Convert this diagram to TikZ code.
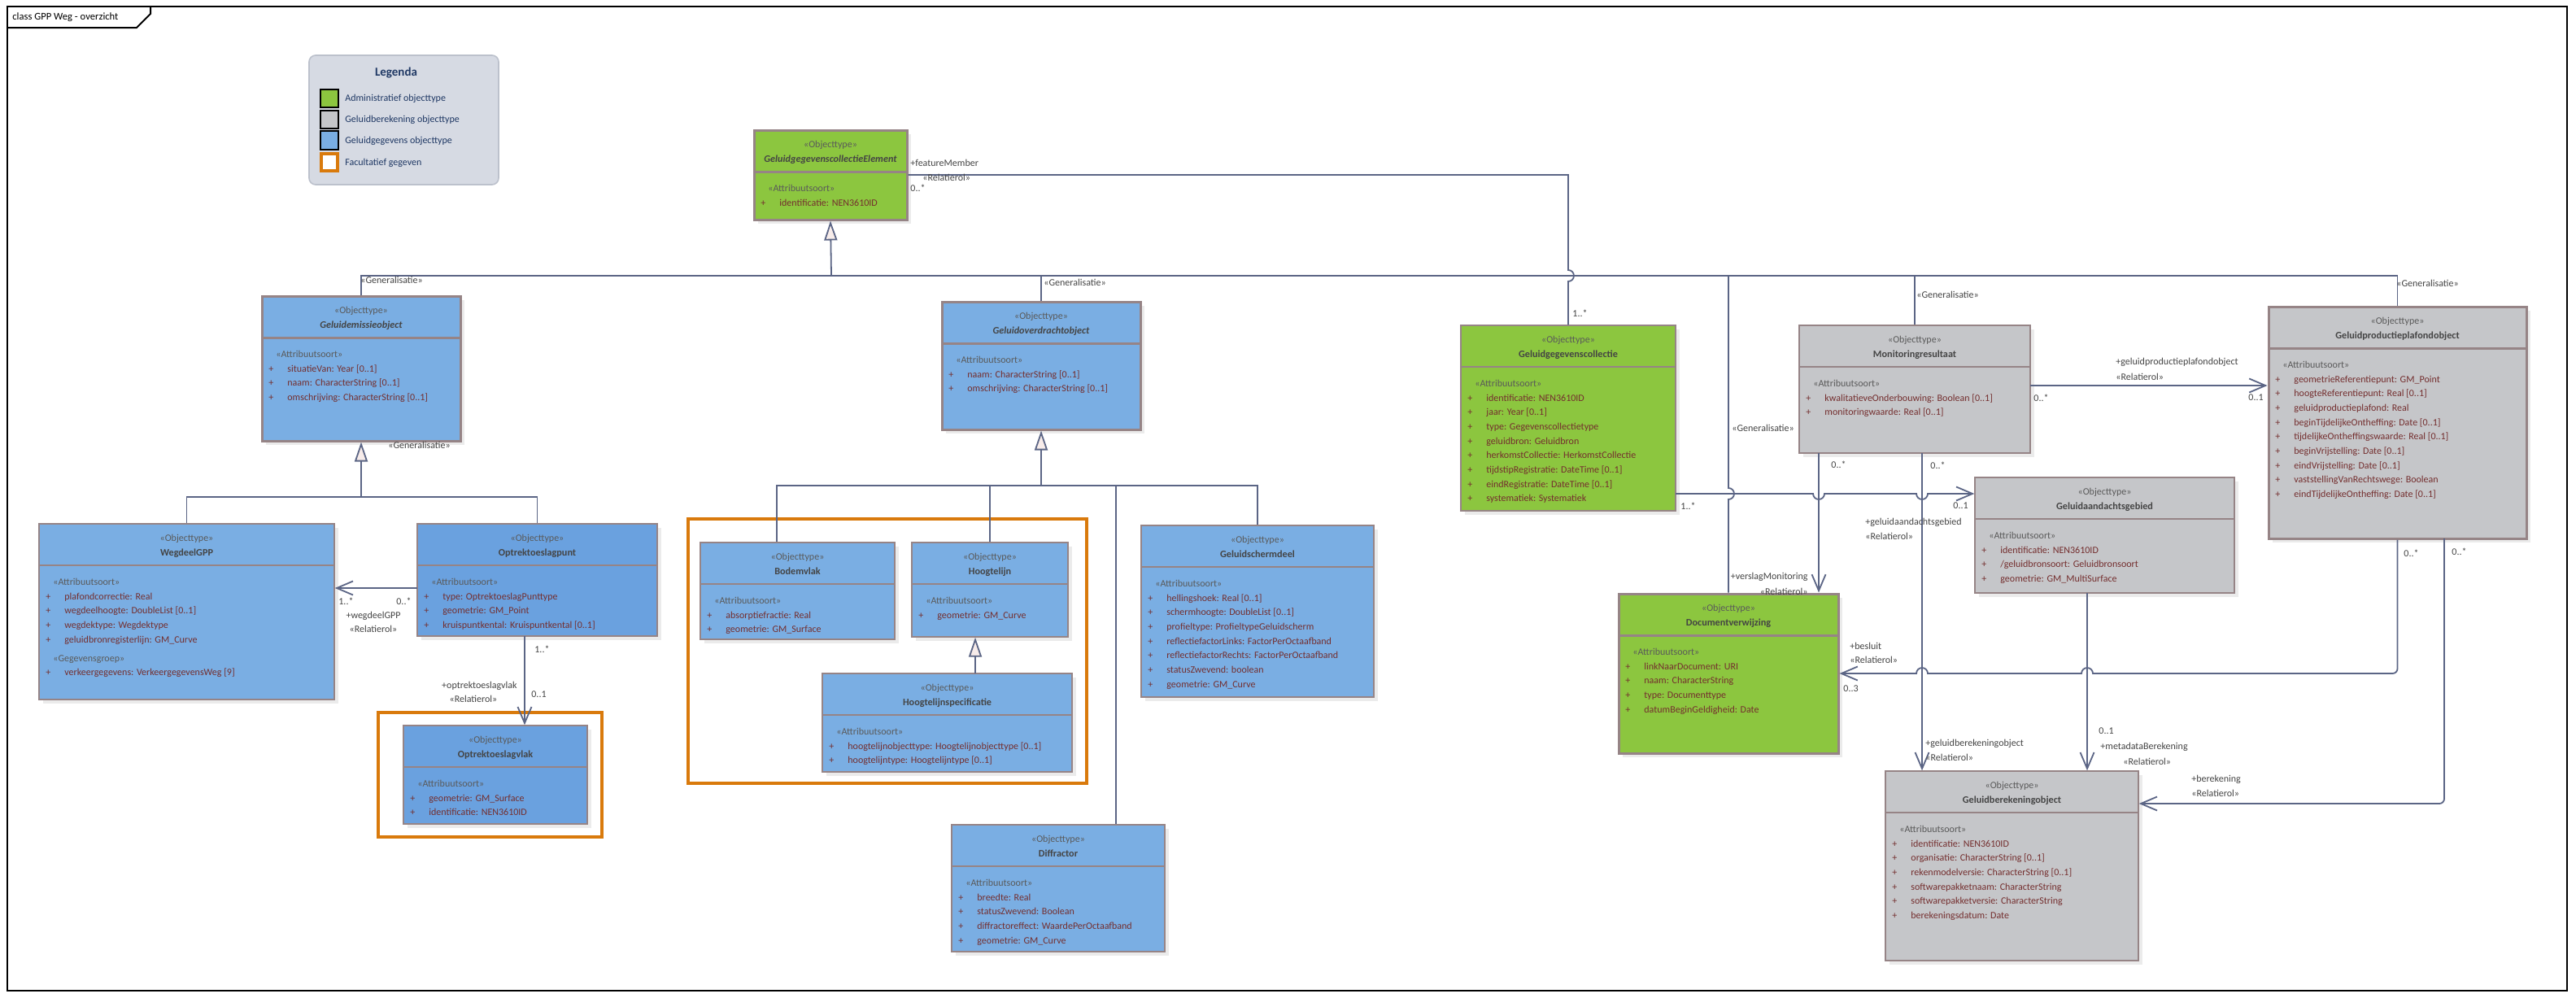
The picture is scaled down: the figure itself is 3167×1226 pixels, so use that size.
\documentclass[tikz,border=0pt]{standalone}
\usepackage{fontspec}
\setmainfont{Carlito}
\usetikzlibrary{arrows.meta,fit,shadows}
\definecolor{cblue}{HTML}{7AAEE3}
\definecolor{cblueb}{HTML}{6AA1DF}
\definecolor{cgreen}{HTML}{8CC63F}
\definecolor{cgrey}{HTML}{C5C6C9}
\definecolor{cborder}{HTML}{968486}
\definecolor{cline}{HTML}{5B6585}
\definecolor{cattr}{HTML}{742E2E}
\definecolor{cstereo}{HTML}{5A5A5A}
\definecolor{cnamecol}{HTML}{444444}
\definecolor{corange}{HTML}{D97A0C}
\definecolor{clegbg}{HTML}{D6DAE3}
\definecolor{clegbd}{HTML}{BCC1CC}
\definecolor{cnavy}{HTML}{1F3864}
\definecolor{cgenfill}{HTML}{F7ECEA}
\tikzset{
  box/.style={draw=cborder, inner sep=0pt, line width=0.7pt,
    drop shadow={shadow xshift=2.5pt,shadow yshift=-2.5pt,fill=black!15}},
  thickb/.style={line width=1.5pt},
  thinb/.style={line width=0.7pt},
  stereo/.style={inner sep=0pt, text=cstereo, font=\fontsize{6}{7}\selectfont},
  clsname/.style={inner sep=0pt, text=cnamecol, font=\bfseries\fontsize{6.1}{7}\selectfont},
  attrtxt/.style={inner sep=0pt, text=cattr, font=\fontsize{6}{7}\selectfont},
  lbl/.style={inner sep=0pt, text=cnamecol, font=\fontsize{6}{7}\selectfont},
  legtxt/.style={inner sep=0pt, text=cnavy, font=\fontsize{6}{7}\selectfont},
  conn/.style={draw=cline, line width=0.9pt},
  assoc/.style={conn, -{Straight Barb[length=10pt,width=8.5pt,line width=0.9pt]}},
  gen/.style={conn, -{Triangle[length=12pt,width=8pt,fill=cgenfill,line width=0.9pt]}},
  optframe/.style={draw=corange, line width=2pt, inner sep=0pt},
  swatch/.style={draw=black, line width=0.8pt, inner sep=0pt},
}
\newcommand\umlclass[8]{%
  \node[box, #7, fill=#6, fit={(#2,#3) (#4,#5)}] (#1) {};
  \draw[draw=cborder, #7] (#2,#3+51) -- (#4,#3+51);
  \node[stereo, anchor=base] (#1-st) at ({(#2+#4)/2},#3+21) {«Objecttype»};
  \node[clsname, anchor=base] (#1-nm) at ({(#2+#4)/2},#3+39) {#8};
  \node[stereo, anchor=base west] (#1-as) at (#2+17,#3+75) {«Attribuutsoort»};
}
\newcommand\attrlist[4]{%
  \foreach \aline [count=\i from 0] in {#4} {
    \node[attrtxt, anchor=base west] (#1-a\i) at (#2+8,#3+93+\i*17.7) {\makebox[11.5pt][l]{+}\aline};
  }%
}
\begin{document}
\begin{tikzpicture}[x=0.5pt,y=-0.5pt]
\useasboundingbox (0,0) rectangle (3167,1226);
\fill[white] (0,0) rectangle (3167,1226);
% frame
\node[draw=black, line width=1pt, inner sep=0pt, fit={(9,8) (3156,1218)}] (frame) {};
\draw[black, line width=1pt] (185,8) -- (185,17) -- (168,34) -- (9,34);
\node[anchor=west, inner sep=0pt, font=\fontsize{6.3}{7}\selectfont] (title) at (15,21) {class GPP Weg - overzicht};
% legend
\node[draw=clegbd, fill=clegbg, rounded corners=4pt, line width=0.8pt, inner sep=0pt, fit={(380,68) (613,227)}] (legend) {};
\node[inner sep=0pt, text=cnavy, font=\bfseries\fontsize{7.5}{9}\selectfont] (legtitle) at (487,90) {Legenda};
\node[swatch, fill=cgreen, fit={(394,110) (416,132)}] (sw1) {};
\node[swatch, fill=cgrey, fit={(394,136) (416,158)}] (sw2) {};
\node[swatch, fill=cblue, fit={(394,161) (416,184)}] (sw3) {};
\node[swatch, draw=corange, line width=1.6pt, fill=white, fit={(395,189) (415,210)}] (sw4) {};
\node[legtxt, anchor=west] (lg1) at (424,121) {Administratief objecttype};
\node[legtxt, anchor=west] (lg2) at (424,147) {Geluidberekening objecttype};
\node[legtxt, anchor=west] (lg3) at (424,173) {Geluidgegevens objecttype};
\node[legtxt, anchor=west] (lg4) at (424,200) {Facultatief gegeven};
% optional frames
\node[optframe, fit={(465,876) (740,1029)}] (opt1) {};
\node[optframe, fit={(846,638) (1336,963)}] (opt2) {};
% classes
\umlclass{ggce}{927}{160}{1115}{270}{cgreen}{thickb}{\itshape GeluidgegevenscollectieElement}
\attrlist{ggce}{927}{160}{identificatie: NEN3610ID}
\umlclass{gemo}{322}{364}{566}{542}{cblue}{thickb}{\itshape Geluidemissieobject}
\attrlist{gemo}{322}{364}{situatieVan: Year [0..1], naam: CharacterString [0..1], omschrijving: CharacterString [0..1]}
\umlclass{govo}{1158}{371}{1402}{528}{cblue}{thickb}{\itshape Geluidoverdrachtobject}
\attrlist{govo}{1158}{371}{naam: CharacterString [0..1], omschrijving: CharacterString [0..1]}
\umlclass{ggc}{1796}{400}{2060}{628}{cgreen}{thinb}{Geluidgegevenscollectie}
\attrlist{ggc}{1796}{400}{identificatie: NEN3610ID, jaar: Year [0..1], type: Gegevenscollectietype, geluidbron: Geluidbron, herkomstCollectie: HerkomstCollectie, tijdstipRegistratie: DateTime [0..1], eindRegistratie: DateTime [0..1], systematiek: Systematiek}
\umlclass{mon}{2212}{400}{2496}{557}{cgrey}{thinb}{Monitoringresultaat}
\attrlist{mon}{2212}{400}{kwalitatieveOnderbouwing: Boolean [0..1], monitoringwaarde: Real [0..1]}
\umlclass{gppo}{2789}{377}{3106}{662}{cgrey}{thickb}{Geluidproductieplafondobject}
\attrlist{gppo}{2789}{377}{geometrieReferentiepunt: GM\_Point, hoogteReferentiepunt: Real [0..1], geluidproductieplafond: Real, beginTijdelijkeOntheffing: Date [0..1], tijdelijkeOntheffingswaarde: Real [0..1], beginVrijstelling: Date [0..1], eindVrijstelling: Date [0..1], vaststellingVanRechtswege: Boolean, eindTijdelijkeOntheffing: Date [0..1]}
\umlclass{weg}{48}{644}{411}{860}{cblue}{thinb}{WegdeelGPP}
\attrlist{weg}{48}{644}{plafondcorrectie: Real, wegdeelhoogte: DoubleList [0..1], wegdektype: Wegdektype, geluidbronregisterlijn: GM\_Curve}
\node[stereo, anchor=base west] (weg-gg) at (65,813) {«Gegevensgroep»};
\node[attrtxt, anchor=base west] (weg-vk) at (56,830) {\makebox[11.5pt][l]{+}verkeergegevens: VerkeergegevensWeg [9]};
\umlclass{optp}{513}{644}{808}{782}{cblueb}{thinb}{Optrektoeslagpunt}
\attrlist{optp}{513}{644}{type: OptrektoeslagPunttype, geometrie: GM\_Point, kruispuntkental: Kruispuntkental [0..1]}
\umlclass{optv}{496}{892}{722}{1013}{cblueb}{thinb}{Optrektoeslagvlak}
\attrlist{optv}{496}{892}{geometrie: GM\_Surface, identificatie: NEN3610ID}
\umlclass{bod}{861}{667}{1100}{786}{cblue}{thinb}{Bodemvlak}
\attrlist{bod}{861}{667}{absorptiefractie: Real, geometrie: GM\_Surface}
\umlclass{hl}{1121}{667}{1313}{783}{cblue}{thinb}{Hoogtelijn}
\attrlist{hl}{1121}{667}{geometrie: GM\_Curve}
\umlclass{hls}{1011}{828}{1318}{949}{cblue}{thinb}{Hoogtelijnspecificatie}
\attrlist{hls}{1011}{828}{hoogtelijnobjecttype: Hoogtelijnobjecttype [0..1], hoogtelijntype: Hoogtelijntype [0..1]}
\umlclass{gsd}{1403}{646}{1689}{857}{cblue}{thinb}{Geluidschermdeel}
\attrlist{gsd}{1403}{646}{hellingshoek: Real [0..1], schermhoogte: DoubleList [0..1], profieltype: ProfieltypeGeluidscherm, reflectiefactorLinks: FactorPerOctaafband, reflectiefactorRechts: FactorPerOctaafband, statusZwevend: boolean, geometrie: GM\_Curve}
\umlclass{dif}{1170}{1014}{1432}{1170}{cblue}{thinb}{Diffractor}
\attrlist{dif}{1170}{1014}{breedte: Real, statusZwevend: Boolean, diffractoreffect: WaardePerOctaafband, geometrie: GM\_Curve}
\umlclass{gag}{2428}{587}{2747}{729}{cgrey}{thinb}{Geluidaandachtsgebied}
\attrlist{gag}{2428}{587}{identificatie: NEN3610ID, {/geluidbronsoort: Geluidbronsoort}, geometrie: GM\_MultiSurface}
\umlclass{doc}{1990}{730}{2260}{926}{cgreen}{thickb}{Documentverwijzing}
\attrlist{doc}{1990}{730}{linkNaarDocument: URI, naam: CharacterString, type: Documenttype, datumBeginGeldigheid: Date}
\umlclass{gbo}{2318}{948}{2629}{1181}{cgrey}{thinb}{Geluidberekeningobject}
\attrlist{gbo}{2318}{948}{identificatie: NEN3610ID, organisatie: CharacterString [0..1], rekenmodelversie: CharacterString [0..1], softwarepakketnaam: CharacterString, softwarepakketversie: CharacterString, berekeningsdatum: Date}
% generalisation tree (top)
\coordinate (gtree) at (1022,339);
\draw[conn] (gemo.north) |- (gtree);
\draw[conn] (govo.north) |- (gtree);
\draw[conn] (mon.north) |- (gtree);
\draw[conn] (gppo.north) |- (gtree);
\draw[conn] (doc.north) -- (2125,614) arc[start angle=90,end angle=-90,radius=7] -- (2125,339);
\draw[gen] (gtree) -- (ggce.south);
% featureMember
\draw[conn] (ggce.east) -- (1928,215) -- (1928,332) arc[start angle=-90,end angle=90,radius=7] -- (ggc.north);
% generalisation Geluidemissieobject
\coordinate (gt2) at (444,611);
\draw[conn] (weg.north) |- (gt2);
\draw[conn] (optp.north) |- (gt2);
\draw[gen] (gt2) -- (gemo.south);
% generalisation Geluidoverdrachtobject
\coordinate (gt3) at (1280,597);
\coordinate (b1) at (955,597);
\coordinate (d1) at (1372,597);
\draw[conn] (b1 |- bod.north) -- (b1) -- (gt3);
\draw[conn] (hl.north) |- (gt3);
\draw[conn] (d1 |- dif.north) -- (d1);
\draw[conn] (gsd.north) |- (gt3);
\draw[gen] (gt3) -- (govo.south);
\coordinate (h1) at (1199,828);
\draw[gen] (h1) -- (h1 |- hl.south);
% associations
\coordinate (a1) at (513,723);
\draw[assoc] (a1) -- (a1 -| weg.east);
\coordinate (a2) at (645,782);
\draw[assoc] (a2) -- (a2 |- optv.north);
\coordinate (m1) at (2496,474);
\draw[assoc] (m1) -- (m1 -| gppo.west);
\coordinate (c1) at (2060,607);
\draw[assoc] (c1) -- (2229,607) arc[start angle=180,end angle=0,radius=7] -- (2356,607) arc[start angle=180,end angle=0,radius=7] -- (c1 -| gag.west);
\coordinate (m2) at (2236,557);
\draw[assoc] (m2) -- (m2 |- doc.north);
\coordinate (m3) at (2363,557);
\draw[assoc] (m3) -- (m3 |- gbo.north);
\coordinate (g3) at (2566,729);
\draw[assoc] (g3) -- (g3 |- gbo.north);
\draw[assoc] (gppo.south) -- (2947.5,822) arc[start angle=0,end angle=90,radius=6] -- (2573,828) arc[start angle=0,end angle=-180,radius=7] -- (2370,828) arc[start angle=0,end angle=-180,radius=7] -- (doc.east);
\coordinate (g2) at (3005,662);
\coordinate (g2b) at (2999,988);
\draw[assoc] (g2) -- (3005,982) arc[start angle=0,end angle=90,radius=6] -- (g2b -| gbo.east);
% labels
\node[lbl, anchor=west] (lb1) at (443,344) {«Generalisatie»};
\node[lbl, anchor=west] (lb2) at (477,547) {«Generalisatie»};
\node[lbl, anchor=west] (lb3) at (1283,347) {«Generalisatie»};
\node[lbl, anchor=west] (lb4) at (2129,526) {«Generalisatie»};
\node[lbl, anchor=west] (lb5) at (2356,362) {«Generalisatie»};
\node[lbl, anchor=west] (lb6) at (2946,348) {«Generalisatie»};
\node[lbl, anchor=west] (lb7) at (1119,200) {+featureMember};
\node[lbl, anchor=west] (lb8) at (1134,218) {«Relatierol»};
\node[lbl, anchor=west] (lb9) at (1119,231) {0..*};
\node[lbl, anchor=west] (lb10) at (1933,385) {1..*};
\node[lbl, anchor=west] (lb11) at (416,739) {1..*};
\node[lbl, anchor=west] (lb12) at (487,739) {0..*};
\node[lbl] (lb13) at (459,757) {+wegdeelGPP};
\node[lbl] (lb14) at (459,773) {«Relatierol»};
\node[lbl, anchor=west] (lb15) at (657,798) {1..*};
\node[lbl, anchor=east] (lb16) at (636,843) {+optrektoeslagvlak};
\node[lbl] (lb17) at (582,859) {«Relatierol»};
\node[lbl, anchor=west] (lb18) at (653,854) {0..1};
\node[lbl, anchor=west] (lb19) at (2601,445) {+geluidproductieplafondobject};
\node[lbl, anchor=west] (lb20) at (2601,463) {«Relatierol»};
\node[lbl, anchor=west] (lb21) at (2500,489) {0..*};
\node[lbl, anchor=west] (lb22) at (2764,489) {0..1};
\node[lbl, anchor=west] (lb23) at (2251,571) {0..*};
\node[lbl, anchor=west] (lb24) at (2373,572) {0..*};
\node[lbl, anchor=west] (lb25) at (2066,622) {1..*};
\node[lbl, anchor=west] (lb26) at (2401,622) {0..1};
\node[lbl, anchor=west] (lb27) at (2293,642) {+geluidaandachtsgebied};
\node[lbl, anchor=west] (lb28) at (2293,659) {«Relatierol»};
\node[lbl, anchor=east] (lb29) at (2223,709) {+verslagMonitoring};
\node[lbl, anchor=east] (lb30) at (2223,727) {«Relatierol»};
\node[lbl, anchor=west] (lb31) at (2955,680) {0..*};
\node[lbl, anchor=west] (lb32) at (3014,678) {0..*};
\node[lbl, anchor=west] (lb33) at (2274,794) {+besluit};
\node[lbl, anchor=west] (lb34) at (2274,811) {«Relatierol»};
\node[lbl, anchor=west] (lb35) at (2266,847) {0..3};
\node[lbl, anchor=west] (lb36) at (2580,899) {0..1};
\node[lbl, anchor=west] (lb37) at (2582,918) {+metadataBerekening};
\node[lbl, anchor=west] (lb38) at (2610,936) {«Relatierol»};
\node[lbl, anchor=west] (lb39) at (2367,914) {+geluidberekeningobject};
\node[lbl, anchor=west] (lb40) at (2367,931) {«Relatierol»};
\node[lbl, anchor=west] (lb41) at (2694,958) {+berekening};
\node[lbl, anchor=west] (lb42) at (2694,975) {«Relatierol»};
\end{tikzpicture}
\end{document}
